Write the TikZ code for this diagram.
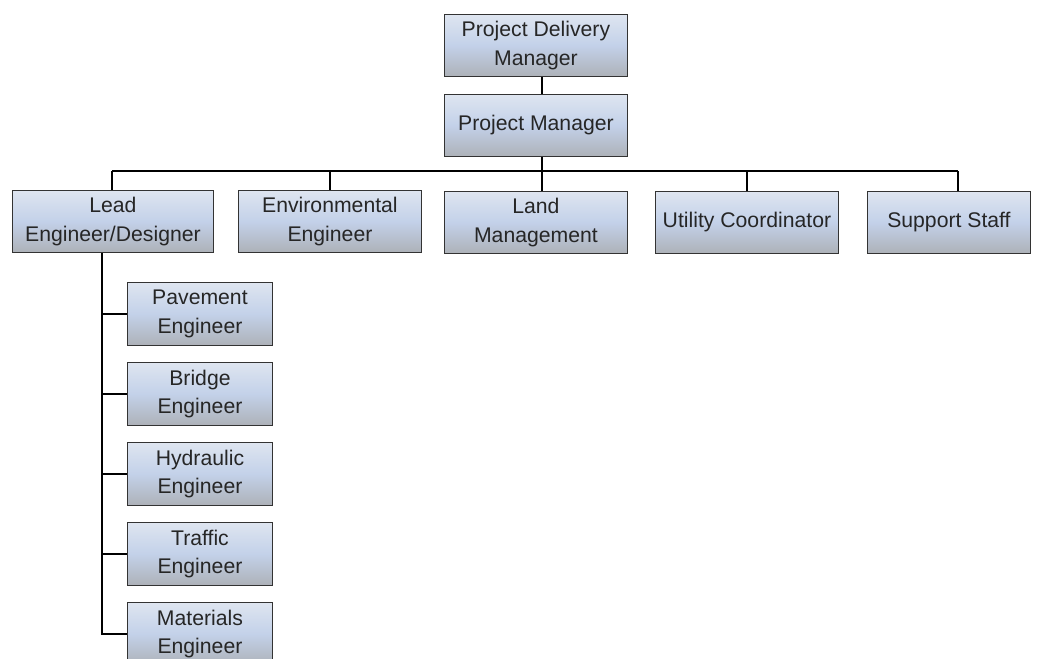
\documentclass[tikz,border=0pt]{standalone}
\usepackage{fontspec}
\setmainfont{Liberation Sans}
\begin{document}
\begin{tikzpicture}[x=1pt,y=-1pt,
  box/.style={draw=black!80, line width=0.9pt, top color=boxtop, bottom color=boxbot, middle color=boxmid,
    align=center, inner sep=0pt, anchor=north west,
    font=\fontsize{21.2}{28.5}\selectfont, text=black!85},
  link/.style={draw=black, line width=1.4pt}]
\definecolor{boxtop}{HTML}{DEE5F0}
\definecolor{boxmid}{HTML}{C3D1E9}
\definecolor{boxbot}{HTML}{ADB1B8}
\useasboundingbox (0,0) rectangle (1037,659);
\clip (0,0) rectangle (1037,659);
\tikzset{bx/.style 2 args={box, minimum width=#1, minimum height=#2}}
% top
\node[bx={183pt}{62pt}] (pdm) at (444,14) {Project Delivery\\Manager};
\node[bx={183pt}{62pt}] (pm) at (444,94) {Project Manager};
% level 2
\node[bx={201pt}{62pt}] (lead) at (12,190) {Lead\\Engineer/Designer};
\node[bx={183pt}{62pt}] (env) at (238,190) {Environmental\\Engineer};
\node[bx={183pt}{62pt}] (land) at (444,191) {Land\\Management};
\node[bx={183pt}{62pt}] (util) at (655,191) {Utility Coordinator};
\node[bx={163pt}{62pt}] (sup) at (867,191) {Support Staff};
% level 3
\node[bx={145pt}{63pt}] (pav) at (127,282) {Pavement\\Engineer};
\node[bx={145pt}{63pt}] (bri) at (127,362) {Bridge\\Engineer};
\node[bx={145pt}{63pt}] (hyd) at (127,442) {Hydraulic\\Engineer};
\node[bx={145pt}{63pt}] (tra) at (127,522) {Traffic\\Engineer};
\node[bx={145pt}{63pt}] (mat) at (127,602) {Materials\\Engineer};
% connectors
\coordinate (bus) at (542,171);
\coordinate (busL) at (112,171);
\coordinate (busR) at (958,171);
\draw[link] (pdm.south -| bus) -- (pm.north -| bus);
\draw[link] (pm.south -| bus) -- (bus);
\draw[link] (busL) -- (busR);
\draw[link] (busL) -- (busL |- lead.north);
\draw[link] (env.north |- bus) -- (env.north);
\draw[link] (bus) -- (land.north -| bus);
\draw[link] (util.north |- bus) -- (util.north);
\draw[link] (busR) -- (busR |- sup.north);
\coordinate (trunk) at (102,252);
\draw[link] (lead.south -| trunk) -- (trunk |- mat.west) -- (mat.west);
\draw[link] (trunk |- pav.west) -- (pav.west);
\draw[link] (trunk |- bri.west) -- (bri.west);
\draw[link] (trunk |- hyd.west) -- (hyd.west);
\draw[link] (trunk |- tra.west) -- (tra.west);
\end{tikzpicture}
\end{document}
